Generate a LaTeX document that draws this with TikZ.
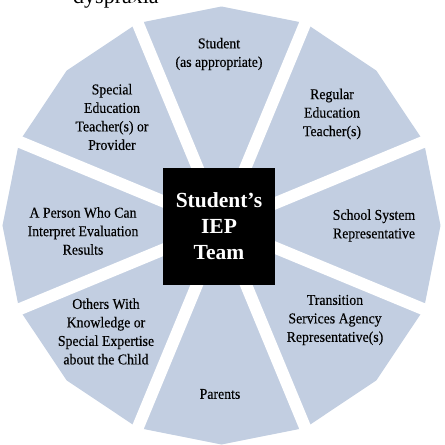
\documentclass[tikz,border=0pt]{standalone}
\usepackage{fontspec}
\setmainfont{Liberation Serif}
\newfontfamily\labelfont[FakeStretch=0.92, FakeBold=0.25]{Liberation Serif}
\definecolor{wedgeblue}{HTML}{C2CEE1}

\begin{document}
\begin{tikzpicture}[x=1pt, y=1pt,
        member/.style={align=center, inner sep=0pt, font=\labelfont\fontsize{15}{18.5}\selectfont},
        gap/.style={white, line width=12pt},
        teambox/.style={fill=black, text=white, align=center, inner sep=0pt,
                        minimum width=112pt, minimum height=117pt,
                        font=\bfseries\fontsize{21.5}{26}\selectfont}]
        \useasboundingbox (-221.5,-219.5) rectangle (223.5,225.5);
        \clip (-221.5,-219.5) rectangle (223.5,225.5);

        % running text above
        \node[anchor=base west, inner sep=0pt, font=\fontsize{22}{26}\selectfont] (word) at (-148.5,222) {dyspraxia};

        % sixteen-sided disc, split into eight wedges
        \fill[wedgeblue] (0:219) \foreach \a in {1,...,15} { -- (\a*22.5:219) } -- cycle;
        \foreach \a in {22.5,67.5,...,337.5}
            \draw[gap] (0,0) -- (\a:240);

        \node[teambox] (team) at (-2.5,-1) {Student’s\\IEP\\Team};

        \node[member] (student)    at (-2.5,171.5)   {Student\\(as appropriate)};
        \node[member] (regular)    at (110.5,111.5)  {Regular\\Education\\Teacher(s)};
        \node[member] (school)     at (152.5,0)      {School System\\Representative};
        \node[member] (transition) at (113.5,-94.5)  {Transition\\Services Agency\\Representative(s)};
        \node[member] (parents)    at (-1.5,-168.5)  {Parents};
        \node[member] (others)     at (-115.5,-106)  {Others With\\Knowledge or\\Special Expertise\\about the Child};
        \node[member] (person)     at (-138.5,-5.5)  {A Person Who Can\\Interpret Evaluation\\Results};
        \node[member] (special)    at (-109.5,108.5) {Special\\Education\\Teacher(s) or\\Provider};
        \end{tikzpicture}
\end{document}
